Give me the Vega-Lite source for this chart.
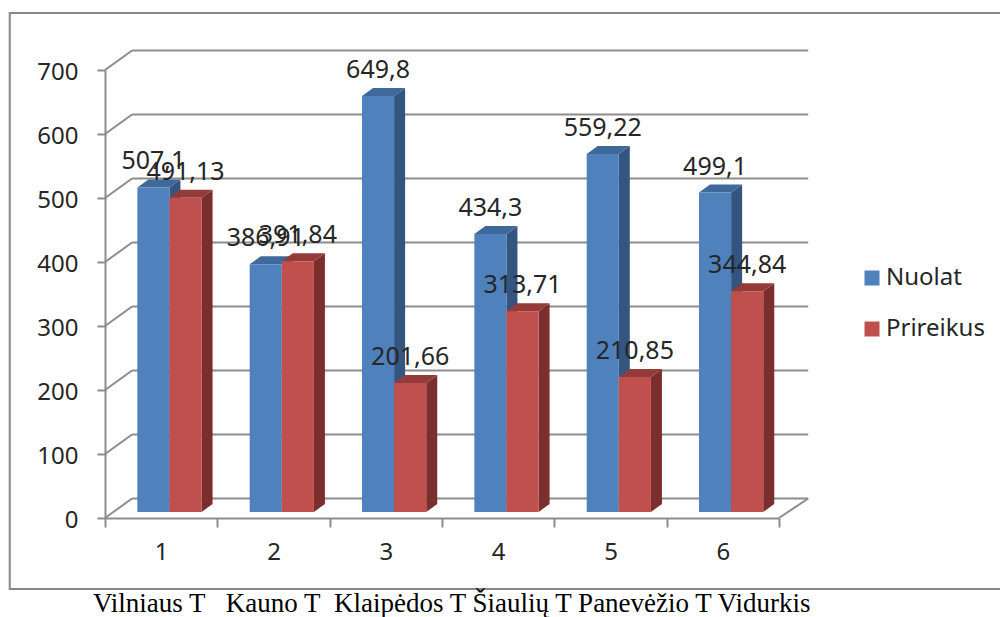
{
"$schema":"https://vega.github.io/schema/vega-lite/v6.json",
"width":674,"height":448,
"autosize":{"type":"none"},
"padding":{"left":105,"top":70,"right":221,"bottom":99},
"background":"white",
"config":{"view":{"stroke":null}},
"data":{"values":[
{"category":1,"series":"Nuolat","value":507.1,"label":"507,1"},
{"category":2,"series":"Nuolat","value":386.91,"label":"386,91"},
{"category":3,"series":"Nuolat","value":649.8,"label":"649,8"},
{"category":4,"series":"Nuolat","value":434.3,"label":"434,3"},
{"category":5,"series":"Nuolat","value":559.22,"label":"559,22"},
{"category":6,"series":"Nuolat","value":499.1,"label":"499,1"},
{"category":1,"series":"Prireikus","value":491.13,"label":"491,13"},
{"category":2,"series":"Prireikus","value":391.84,"label":"391,84"},
{"category":3,"series":"Prireikus","value":201.66,"label":"201,66"},
{"category":4,"series":"Prireikus","value":313.71,"label":"313,71"},
{"category":5,"series":"Prireikus","value":210.85,"label":"210,85"},
{"category":6,"series":"Prireikus","value":344.84,"label":"344,84"}
]},
"transform":[
{"calculate":"datum.category+(datum.series=='Nuolat'?-0.212:0.074)","as":"left"},
{"calculate":"datum.left+0.2857","as":"right"},
{"calculate":"datum.left+0.1428","as":"mid"},
{"calculate":"datum.value+9.4","as":"top"}
],
"layer":[
{"data":{"values":[{"name":"frame"}]},
 "mark":{"type":"rect","fill":null,"stroke":"#868686","strokeWidth":2},
 "encoding":{"x":{"datum":-0.348,"type":"quantitative","scale":{"domain":[0.5,6.5]},"axis":{"title":null,"values":[0.5,1,1.5,2,2.5,3,3.5,4,4.5,5,5.5,6,6.5],"grid":false,"domainColor":"#8c8c8c","domainWidth":2,"tickColor":"#8c8c8c","tickWidth":2,"tickSize":9,"tickOpacity":{"condition":{"test":"datum.value%1==0","value":0},"value":1},"labelExpr":"datum.value%1==0?format(datum.value,'d'):''","labelFont":"Noto Sans","labelFontSize":24,"labelColor":"#262626","labelPadding":13,"labelFlush":false,"labelOverlap":false}},
 "x2":{"datum":9},
 "y":{"datum":789,"type":"quantitative","scale":{"domain":[0,700]},"axis":{"title":null,"values":[0,100,200,300,400,500,600,700],"grid":false,"domainColor":"#8c8c8c","domainWidth":2,"tickColor":"#8c8c8c","tickWidth":2,"tickSize":8,"labelFont":"Noto Sans","labelFontSize":24,"labelColor":"#262626","labelPadding":19,"labelOffset":2}},
 "y2":{"datum":-111}}},
{"data":{"values":[{"v":0},{"v":100},{"v":200},{"v":300},{"v":400},{"v":500},{"v":600},{"v":700}]},
 "transform":[{"calculate":"datum.v+30.5","as":"w"}],
 "layer":[
  {"mark":{"type":"rule","color":"#8c8c8c","strokeWidth":2},
   "encoding":{"x":{"datum":0.5,"type":"quantitative"},"x2":{"datum":0.741},"y":{"field":"v","type":"quantitative"},"y2":{"field":"w"}}},
  {"mark":{"type":"rule","color":"#8c8c8c","strokeWidth":2},
   "encoding":{"x":{"datum":0.741,"type":"quantitative"},"x2":{"datum":6.76},"y":{"field":"w","type":"quantitative"}}},
  {"transform":[{"filter":"datum.v==0"}],"mark":{"type":"rule","color":"#8c8c8c","strokeWidth":2},
   "encoding":{"x":{"datum":6.5,"type":"quantitative"},"x2":{"datum":6.76},"y":{"field":"v","type":"quantitative"},"y2":{"field":"w"}}}
 ]},
{"transform":[{"filter":"datum.series=='Nuolat'"},{"calculate":"[0,1]","as":"k"},{"flatten":["k"]},{"calculate":"datum.right+datum.k*0.098","as":"ax"},{"calculate":"datum.top+datum.k*12.5","as":"ay"},{"calculate":"9.4+datum.k*12.5","as":"ay2"}],
 "mark":{"type":"area","color":"#34557F"},
 "encoding":{"x":{"field":"ax","type":"quantitative"},"y":{"field":"ay","type":"quantitative","stack":null},"y2":{"field":"ay2"},"detail":{"field":"category"}}},
{"transform":[{"filter":"datum.series=='Nuolat'"},{"calculate":"[0,1,2,3]","as":"k"},{"flatten":["k"]},{"calculate":"datum.k==0?datum.left:datum.k==1?datum.left+0.098:datum.k==2?datum.right:datum.right+0.098","as":"ax"},{"calculate":"datum.k==3?datum.top+12.5:datum.top","as":"ay"},{"calculate":"datum.k==0?datum.top:datum.top+12.5","as":"ay2"}],
 "mark":{"type":"area","color":"#3F689B"},
 "encoding":{"x":{"field":"ax","type":"quantitative"},"y":{"field":"ay","type":"quantitative","stack":null},"y2":{"field":"ay2"},"detail":{"field":"category"}}},
{"transform":[{"filter":"datum.series=='Prireikus'"},{"calculate":"[0,1]","as":"k"},{"flatten":["k"]},{"calculate":"datum.right+datum.k*0.098","as":"ax"},{"calculate":"datum.top+datum.k*12.5","as":"ay"},{"calculate":"9.4+datum.k*12.5","as":"ay2"}],
 "mark":{"type":"area","color":"#7A2F2E"},
 "encoding":{"x":{"field":"ax","type":"quantitative"},"y":{"field":"ay","type":"quantitative","stack":null},"y2":{"field":"ay2"},"detail":{"field":"category"}}},
{"transform":[{"filter":"datum.series=='Prireikus'"},{"calculate":"[0,1,2,3]","as":"k"},{"flatten":["k"]},{"calculate":"datum.k==0?datum.left:datum.k==1?datum.left+0.098:datum.k==2?datum.right:datum.right+0.098","as":"ax"},{"calculate":"datum.k==3?datum.top+12.5:datum.top","as":"ay"},{"calculate":"datum.k==0?datum.top:datum.top+12.5","as":"ay2"}],
 "mark":{"type":"area","color":"#943B39"},
 "encoding":{"x":{"field":"ax","type":"quantitative"},"y":{"field":"ay","type":"quantitative","stack":null},"y2":{"field":"ay2"},"detail":{"field":"category"}}},
{"mark":{"type":"rect"},
 "encoding":{"x":{"field":"left","type":"quantitative"},"x2":{"field":"right"},"y":{"field":"top","type":"quantitative"},"y2":{"datum":9.4},
 "color":{"field":"series","type":"nominal","scale":{"domain":["Nuolat","Prireikus"],"range":["#4F81BD","#C0504D"]},
  "legend":{"orient":"none","legendX":755,"legendY":196,"title":null,"symbolType":"square","symbolSize":225,"symbolStrokeWidth":0,"symbolOpacity":1,"labelFont":"Noto Sans","labelFontSize":24,"labelColor":"#262626","labelOffset":2,"rowPadding":27}}}},
{"mark":{"type":"text","font":"Noto Sans","fontSize":25,"color":"#262626","baseline":"alphabetic","dy":-18},
 "encoding":{"x":{"field":"mid","type":"quantitative"},"y":{"field":"top","type":"quantitative"},"text":{"field":"label"}}},
{"data":{"values":[{"caption":"Vilniaus T\u00a0\u00a0\u00a0Kauno T\u00a0\u00a0Klaipėdos T Šiaulių T Panevėžio T Vidurkis"}]},
 "mark":{"type":"text","font":"Liberation Serif","fontSize":27,"color":"#000000","align":"left","baseline":"alphabetic"},
 "encoding":{"x":{"datum":0.393,"type":"quantitative"},"y":{"datum":-146.9,"type":"quantitative"},"text":{"field":"caption"}}}
]
}
